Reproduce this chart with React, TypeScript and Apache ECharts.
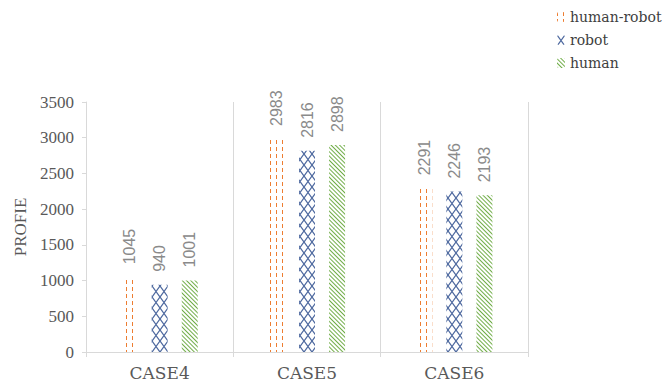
import React, { useEffect, useRef } from "react";
import * as echarts from "echarts";

const categories = ["CASE4", "CASE5", "CASE6"];
const humanRobot = [1045, 2983, 2291];
const robot = [940, 2816, 2246];
const human = [1001, 2898, 2193];
const yTicks = { min: 0, max: 3500, interval: 500 };

const SERIF = "Liberation Serif";
const SERIF2 = "DejaVu Serif";
const SANS = "Liberation Sans";

export default function App() {
  const ref = useRef<HTMLDivElement>(null);
  useEffect(() => {
    if (!ref.current) return;
    const chart = echarts.init(ref.current, null, { renderer: "svg" });
    const label = {
      show: true,
      position: "top",
      rotate: 90,
      align: "left",
      verticalAlign: "middle",
      distance: 13,
      fontSize: 16,
      color: "#8a8a8a",
      fontFamily: SANS,
    };
    chart.setOption({
      animation: false,
      backgroundColor: "#ffffff",
      textStyle: { fontFamily: SERIF },
      legend: {
        orient: "vertical",
        left: 552,
        top: 3,
        itemWidth: 8,
        itemHeight: 10,
        itemGap: 5,
        textStyle: { fontFamily: SERIF2, fontSize: 14, color: "#404040", lineHeight: 18 },
        data: ["human-robot", "robot", "human"],
      },
      grid: { left: 86, right: 143, top: 102, bottom: 29 },
      xAxis: {
        type: "category",
        data: categories,
        axisLine: { show: true, lineStyle: { color: "#d9d9d9", width: 1 } },
        axisTick: { show: true, length: 5, lineStyle: { color: "#d9d9d9" } },
        splitLine: { show: true, lineStyle: { color: "#d9d9d9", width: 1 } },
        axisLabel: { fontFamily: SERIF2, fontSize: 17, color: "#595959", margin: 12 },
      },
      yAxis: {
        type: "value",
        min: yTicks.min,
        max: yTicks.max,
        interval: yTicks.interval,
        name: "PROFIE",
        nameLocation: "middle",
        nameRotate: 90,
        nameGap: 55,
        nameTextStyle: { fontFamily: SERIF, fontSize: 17, color: "#595959" },
        axisLine: { show: true, lineStyle: { color: "#d9d9d9", width: 1 } },
        axisTick: { show: true, length: 4, lineStyle: { color: "#d9d9d9" } },
        splitLine: { show: false },
        axisLabel: {
          fontFamily: SERIF,
          fontSize: 17,
          color: "#595959",
          margin: 12,
          formatter: (v: number) => String(v),
        },
      },
      series: [
        {
          name: "human-robot",
          type: "bar",
          data: humanRobot,
          barWidth: 16,
          barGap: "88%",
          itemStyle: {
            color: "rgba(255,255,255,0)",
            decal: {
              symbol: "rect",
              symbolSize: 1,
              symbolKeepAspect: false,
              color: "#ED7D31",
              dashArrayX: [1, 5],
              dashArrayY: [4, 3],
              rotation: 0,
            },
          },
          label,
        },
        {
          name: "robot",
          type: "bar",
          data: robot,
          barWidth: 16,
          barGap: "88%",
          itemStyle: {
            color: "rgba(255,255,255,0)",
            decal: {
              symbol:
                "path://M0,0L1,0L10,9L10,10L9,10L0,1Z M9,0L10,0L10,1L1,10L0,10L0,9Z",
              symbolSize: 1,
              symbolKeepAspect: false,
              color: "#4F6AA0",
              dashArrayX: [8, 0],
              dashArrayY: [11, 0],
              rotation: 0,
            },
          },
          label,
        },
        {
          name: "human",
          type: "bar",
          data: human,
          barWidth: 16,
          barGap: "88%",
          itemStyle: {
            color: "rgba(255,255,255,0)",
            decal: {
              symbol: "rect",
              symbolSize: 1,
              symbolKeepAspect: false,
              color: "#70AD47",
              dashArrayX: [1, 0],
              dashArrayY: [1, 2],
              rotation: Math.PI / 4,
            },
          },
          label,
        },
      ],
    });
    return () => chart.dispose();
  }, []);
  return <div ref={ref} style={{ width: 671, height: 381, position: "absolute", left: 0, top: 0 }} />;
}
